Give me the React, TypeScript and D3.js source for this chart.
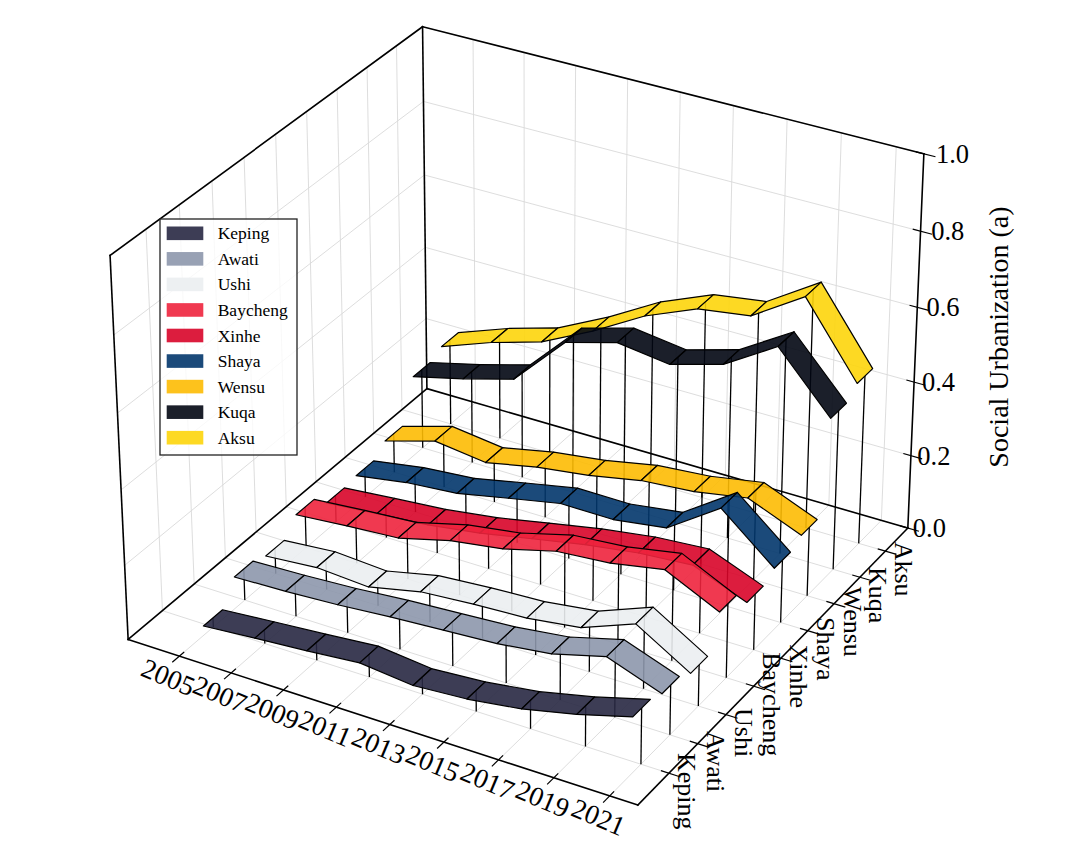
import React from 'react';
import * as d3 from 'd3';

// ---------- data ----------
const years = [2005, 2007, 2009, 2011, 2013, 2015, 2017, 2019, 2021];
const regions = ['Keping', 'Awati', 'Ushi', 'Baycheng', 'Xinhe', 'Shaya', 'Wensu', 'Kuqa', 'Aksu'];
const colors = ['#282842', '#8d97ac', '#ebeef1', '#ee243d', '#d80429', '#02366b', '#fdbb03', '#020713', '#fdd50b'];

const keping = [0.025, 0.037, 0.048, 0.061, 0.046, 0.056, 0.076, 0.108, 0.148];
const awati = [0.085, 0.090, 0.098, 0.110, 0.119, 0.128, 0.146, 0.184, 0.132];
const ushi = [0.070, 0.082, 0.073, 0.104, 0.115, 0.122, 0.141, 0.196, 0.110];
const baycheng = [0.112, 0.124, 0.134, 0.170, 0.191, 0.228, 0.240, 0.266, 0.198];
const xinhe = [0.074, 0.087, 0.099, 0.119, 0.147, 0.174, 0.195, 0.206, 0.150];
const shaya = [0.080, 0.103, 0.115, 0.144, 0.172, 0.171, 0.191, 0.287, 0.169];
const wensu = [0.108, 0.149, 0.131, 0.160, 0.179, 0.207, 0.219, 0.244, 0.186];
const kuqa = [0.220, 0.254, 0.293, 0.433, 0.472, 0.453, 0.493, 0.580, 0.430];
const aksu = [0.238, 0.289, 0.330, 0.399, 0.479, 0.537, 0.557, 0.647, 0.456];
const seriesValues = [keping, awati, ushi, baycheng, xinhe, shaya, wensu, kuqa, aksu];

const zTicks = [0, 0.2, 0.4, 0.6, 0.8, 1.0];
const zLabel = 'Social Urbanization (a)';

// ---------- layout ----------
const W = 1080;
const H = 864;
const xDomain: [number, number] = [2003, 2022];
const yDomain: [number, number] = [-1.06, 8.9];
const zDomain: [number, number] = [0, 1];
const halfWidth = 0.3;
const FONT = "'Liberation Serif', 'Times New Roman', serif";

// pixel anchors of the 3D box corners (normalized box coords -> screen)
const boxAnchors: [number[], number[]][] = [
  [[0, 0, 0], [128.5, 640]],
  [[1, 0, 0], [637.5, 805]],
  [[1, 1, 0], [908, 528]],
  [[0, 1, 0], [426.7, 388.3]],
  [[0, 0, 1], [110, 255]],
  [[0, 1, 1], [422.5, 27]],
  [[1, 1, 1], [924, 154]],
];

const NX = 540, NY = 432, NS = 400;

function fitProjection(anchors: [number[], number[]][]) {
  const rows: number[][] = [];
  const rhs: number[] = [];
  for (const [[X, Y, Z], [px, py]] of anchors) {
    const x = (px - NX) / NS;
    const y = (py - NY) / NS;
    rows.push([X, Y, Z, 1, 0, 0, 0, 0, -x * X, -x * Y, -x * Z]);
    rhs.push(x);
    rows.push([0, 0, 0, 0, X, Y, Z, 1, -y * X, -y * Y, -y * Z]);
    rhs.push(y);
  }
  const n = 11;
  const M: number[][] = Array.from({ length: n }, () => new Array(n + 1).fill(0));
  for (let r = 0; r < rows.length; r++) {
    for (let i = 0; i < n; i++) {
      for (let j = 0; j < n; j++) M[i][j] += rows[r][i] * rows[r][j];
      M[i][n] += rows[r][i] * rhs[r];
    }
  }
  for (let c = 0; c < n; c++) {
    let piv = c;
    for (let r = c + 1; r < n; r++) if (Math.abs(M[r][c]) > Math.abs(M[piv][c])) piv = r;
    const tmp = M[c]; M[c] = M[piv]; M[piv] = tmp;
    for (let r = 0; r < n; r++) {
      if (r === c) continue;
      const f = M[r][c] / M[c][c];
      for (let k = c; k <= n; k++) M[r][k] -= f * M[c][k];
    }
  }
  return M.map((row, i) => row[n] / row[i]);
}

const P = fitProjection(boxAnchors);

const sx = d3.scaleLinear().domain(xDomain).range([0, 1]);
const sy = d3.scaleLinear().domain(yDomain).range([0, 1]);
const sz = d3.scaleLinear().domain(zDomain).range([0, 1]);

function projN(u: number, v: number, w: number): [number, number] {
  const den = P[8] * u + P[9] * v + P[10] * w + 1;
  const x = (P[0] * u + P[1] * v + P[2] * w + P[3]) / den;
  const y = (P[4] * u + P[5] * v + P[6] * w + P[7]) / den;
  return [x * NS + NX, y * NS + NY];
}
function proj(x: number, y: number, z: number): [number, number] {
  return projN(sx(x), sy(y), sz(z));
}

const line = d3.line<[number, number]>();
const poly = (pts: [number, number][]) => (line(pts) || '') + 'Z';
const seg = (a: [number, number], b: [number, number]) => line([a, b]) || '';

export default function App() {
  const yTickVals = regions.map((_, i) => i);

  // grid lines
  const grid: string[] = [];
  years.forEach((yr) => {
    const u = sx(yr);
    grid.push(seg(projN(u, 0, 0), projN(u, 1, 0)));
    grid.push(seg(projN(u, 1, 0), projN(u, 1, 1)));
  });
  yTickVals.forEach((i) => {
    const v = sy(i);
    grid.push(seg(projN(0, v, 0), projN(1, v, 0)));
    grid.push(seg(projN(0, v, 0), projN(0, v, 1)));
  });
  zTicks.forEach((z) => {
    const w = sz(z);
    grid.push(seg(projN(0, 0, w), projN(0, 1, w)));
    grid.push(seg(projN(0, 1, w), projN(1, 1, w)));
  });

  const edges: [number[], number[]][] = [
    [[0, 0, 0], [1, 0, 0]],
    [[1, 0, 0], [1, 1, 0]],
    [[1, 1, 0], [1, 1, 1]],
    [[0, 0, 0], [0, 0, 1]],
    [[0, 0, 1], [0, 1, 1]],
    [[0, 1, 1], [1, 1, 1]],
    [[0, 1, 0], [0, 1, 1]],
    [[0, 0, 0], [0, 1, 0]],
    [[0, 1, 0], [1, 1, 0]],
  ];

  // series drawn back to front
  const order = d3.range(regions.length).reverse();

  return (
    <svg width={W} height={H} style={{ position: 'absolute', left: 0, top: 0, background: '#fff' }}
      fontFamily={FONT}>
      <rect x={0} y={0} width={W} height={H} fill="#fff" />
      <g stroke="#d9d9d9" strokeWidth={0.9} fill="none">
        {grid.map((d, k) => <path key={k} d={d} />)}
      </g>
      <g stroke="#000" strokeWidth={1.6} fill="none" strokeLinecap="square">
        {edges.map(([a, b], k) => (
          <path key={k} d={seg(projN(a[0], a[1], a[2]), projN(b[0], b[1], b[2]))} />
        ))}
      </g>
      {/* x ticks & labels */}
      <g>
        {years.map((yr) => {
          const u = sx(yr);
          const t = projN(u, 0, 0);
          const lx = t[0] - 11;
          const ly = t[1] + 21;
          return (
            <g key={yr}>
              <path d={seg(projN(u, 0.015, 0), projN(u, -0.022, 0))} stroke="#000" strokeWidth={1.2} />
              <text x={lx} y={ly} fontSize={27.5} textAnchor="middle" dominantBaseline="central"
                transform={`rotate(23 ${lx} ${ly})`}>{yr}</text>
            </g>
          );
        })}
      </g>
      {/* y ticks & labels */}
      <g>
        {yTickVals.map((i) => {
          const v = sy(i);
          const t = projN(1, v, 0);
          const lx = t[0] + 18;
          const ly = t[1] + 18;
          return (
            <g key={i}>
              <path d={seg(projN(0.985, v, 0), projN(1.022, v, 0))} stroke="#000" strokeWidth={1.2} />
              <text x={lx} y={ly} fontSize={26} textAnchor="middle" dominantBaseline="central"
                transform={`rotate(90 ${lx} ${ly})`}>{regions[i]}</text>
            </g>
          );
        })}
      </g>
      {/* z ticks & labels */}
      <g>
        {zTicks.map((z) => {
          const w = sz(z);
          const t = projN(1, 1, w);
          return (
            <g key={z}>
              <path d={seg(projN(0.985, 1, w), projN(1.022, 1, w))} stroke="#000" strokeWidth={1.2} />
              <text x={t[0] + 5 + 7 * z} y={t[1]} fontSize={26.5} textAnchor="start" dominantBaseline="central">
                {d3.format('.1f')(z)}
              </text>
            </g>
          );
        })}
        <text x={998} y={337} fontSize={28} textAnchor="middle" dominantBaseline="central"
          transform="rotate(-90 998 337)">{zLabel}</text>
      </g>
      {/* series */}
      {order.map((i) => {
        const vals = seriesValues[i];
        return (
          <g key={regions[i]}>
            <g stroke="#000" strokeWidth={1.3}>
              {years.map((yr, k) => (
                <path key={k} d={seg(proj(yr, i, 0), proj(yr, i, vals[k]))} />
              ))}
            </g>
            <g fill={colors[i]} fillOpacity={0.9} stroke="#000" strokeWidth={1.2} strokeLinejoin="round">
              {years.slice(0, -1).map((yr, k) => {
                const yr2 = years[k + 1];
                const pts: [number, number][] = [
                  proj(yr, i - halfWidth, vals[k]),
                  proj(yr2, i - halfWidth, vals[k + 1]),
                  proj(yr2, i + halfWidth, vals[k + 1]),
                  proj(yr, i + halfWidth, vals[k]),
                ];
                return <path key={k} d={poly(pts)} />;
              })}
            </g>
          </g>
        );
      })}
      {/* legend */}
      <g>
        <rect x={160} y={219} width={137} height={236} fill="#fff" fillOpacity={0.8} stroke="#222" strokeWidth={1.3} />
        {regions.map((name, k) => {
          const cy = 233.3 + 25.55 * k;
          return (
            <g key={name}>
              <rect x={166.7} y={cy - 6.8} width={36.6} height={13.6} fill={colors[k]} fillOpacity={0.9} />
              <text x={217.7} y={cy} fontSize={17.5} dominantBaseline="central">{name}</text>
            </g>
          );
        })}
      </g>
    </svg>
  );
}
